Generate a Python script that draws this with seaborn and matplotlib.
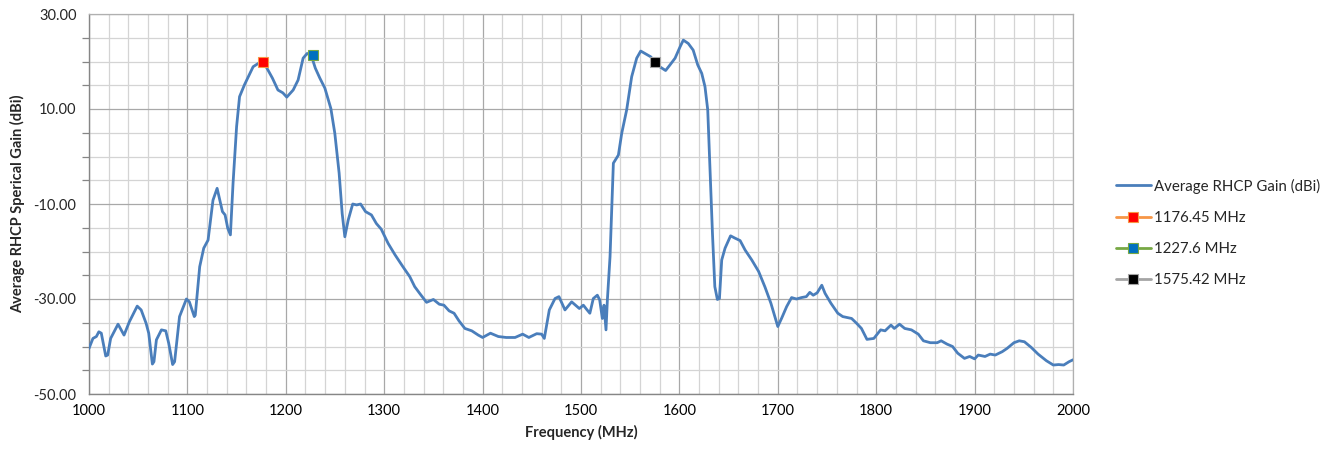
import matplotlib
matplotlib.use("Agg")
import matplotlib.pyplot as plt
import seaborn as sns
import numpy as np
import pandas as pd

# ---- data ----
freq_mhz = [
    1000, 1004, 1007.5, 1010, 1012.5, 1017, 1019, 1022, 1029.5, 1035.6, 1041, 1049, 1053, 1058, 1060.7,
    1064.4, 1066, 1068.5, 1073.6, 1078, 1081, 1085, 1087, 1092, 1099, 1102, 1107, 1108, 1112.5, 1116.6,
    1121, 1126, 1130.2, 1133, 1135.6, 1138.3, 1141, 1143.7, 1146.4, 1150, 1153, 1158, 1166.8, 1175,
    1180, 1186.4, 1192, 1197, 1201, 1207.5, 1212.5, 1217.6, 1221.7, 1226, 1230, 1234.6, 1239.7, 1245.8,
    1249.8, 1254.2, 1257.3, 1260, 1263.4, 1268, 1272, 1276, 1281, 1287, 1292, 1297, 1304, 1311, 1319,
    1326, 1331, 1336, 1343, 1350, 1356, 1360.7, 1366, 1371, 1376, 1382, 1389, 1395.6, 1400, 1408, 1416,
    1424, 1433, 1440.7, 1447, 1455, 1460, 1462.7, 1467.8, 1473.6, 1477.6, 1483.7, 1490.5, 1498.3,
    1502.4, 1505.8, 1509, 1512.5, 1516.6, 1519, 1521.7, 1523.4, 1525.4, 1526.8, 1529.5, 1532.9, 1538,
    1541.4, 1546.4, 1551.5, 1556.6, 1560.7, 1565, 1570.8, 1575, 1580, 1586, 1590.5, 1595.6, 1600.7,
    1604, 1609, 1614, 1618.6, 1622.7, 1626, 1628.8, 1631, 1633.6, 1636, 1638.6, 1640.7, 1643, 1646.4,
    1652, 1656.6, 1661.7, 1666.8, 1673.6, 1680.5, 1687, 1693, 1697, 1700, 1704, 1709, 1714, 1719, 1724,
    1729, 1732.5, 1736, 1740, 1744.7, 1748, 1754, 1761, 1766, 1775, 1780, 1785, 1790.6, 1797.6, 1804.5,
    1809, 1815, 1818.4, 1823.7, 1829, 1835.8, 1842.8, 1848, 1855, 1862, 1866, 1872, 1877.6, 1882.8,
    1889.7, 1895, 1900, 1903.7, 1910.6, 1915.8, 1921, 1928, 1933, 1940, 1945.4, 1950.6, 1957.6, 1964.5,
    1973, 1980, 1985.4, 1990.6, 1996, 2000,
]
gain_dbi = [
    -40.4, -38.3, -37.9, -36.9, -37.2, -42.0, -41.8, -38.3, -35.3, -37.6, -34.8, -31.5, -32.3, -35.1, -37.2,
    -43.7, -43.2, -38.6, -36.5, -36.7, -39.3, -43.8, -43.2, -33.7, -30.0, -30.6, -33.7, -33.4, -23.2, -19.3,
    -17.6, -9.2, -6.7, -9.2, -11.6, -12.3, -15.1, -16.5, -5.6, 6.3, 12.6, 15.1, 18.9, 20.0,
    18.9, 16.5, 14.0, 13.4, 12.5, 14.0, 16.1, 20.7, 21.7, 21.2, 18.6, 16.5, 14.4, 10.1,
    4.9, -3.5, -12.0, -16.9, -13.4, -10.0, -10.2, -10.0, -11.6, -12.3, -14.1, -15.3, -18.3, -20.7, -23.2,
    -25.3, -27.4, -28.8, -30.7, -30.1, -31.1, -31.3, -32.5, -33.0, -34.6, -36.2, -36.7, -37.6, -38.1, -37.2, -37.9,
    -38.1, -38.1, -37.4, -38.1, -37.3, -37.4, -38.3, -32.3, -29.9, -29.5, -32.3, -30.6, -32.0,
    -31.3, -32.2, -33.0, -29.9, -29.2, -30.2, -34.1, -31.3, -36.5, -30.2, -21.1, -1.4, 0.3,
    4.9, 9.8, 16.8, 20.7, 22.2, 21.7, 21.0, 20.0, 18.9, 18.1, 19.3, 20.7, 23.1,
    24.5, 23.8, 22.4, 19.3, 17.5, 14.7, 9.8, -2.1, -16.2, -27.4, -30.1, -29.9, -21.8, -19.3,
    -16.7, -17.2, -17.7, -19.7, -21.8, -24.2, -27.5, -30.9, -33.7, -35.8, -34.0, -31.6, -29.7, -30.0, -29.7,
    -29.5, -28.6, -29.2, -28.7, -27.1, -28.8, -30.9, -33.0, -33.7, -34.1, -35.1, -36.2, -38.5, -38.3, -36.5,
    -36.7, -35.5, -36.2, -35.3, -36.2, -36.5, -37.4, -38.8, -39.2, -39.2, -38.8, -39.5, -40.0, -41.4,
    -42.5, -42.1, -42.6, -41.8, -42.1, -41.6, -41.8, -41.1, -40.4, -39.2, -38.8, -39.0, -40.2, -41.6,
    -43.0, -43.9, -43.8, -43.9, -43.2, -42.8,
]
marker_labels = ["1176.45 MHz", "1227.6 MHz", "1575.42 MHz"]
marker_freq = [1176.45, 1227.6, 1575.42]
marker_gain = [20.0, 21.3, 20.0]
series_label = "Average RHCP Gain (dBi)"
x_ticks = [1000, 1100, 1200, 1300, 1400, 1500, 1600, 1700, 1800, 1900, 2000]
y_ticks = [-50, -30, -10, 10, 30]

# ---- styling ----
sns.set_style("white")
plt.rcParams["font.family"] = ["Lato", "DejaVu Sans"]

line_color = "#4A7EBB"
marker_line_colors = ["#F79646", "#77A844", "#A5A5A5"]
marker_face_colors = ["#FF0000", "#0070C0", "#000000"]

fig = plt.figure(figsize=(13.38, 4.53), dpi=100)
ax = fig.add_axes([89 / 1338, 1 - 394 / 453, (1073 - 89) / 1338, (394 - 14) / 453])

df = pd.DataFrame({"freq": freq_mhz, "gain": gain_dbi})
sns.lineplot(data=df, x="freq", y="gain", ax=ax, color=line_color, linewidth=2.0,
             label=series_label, sort=False, zorder=3)

for lab, f, g, lc, fc in zip(marker_labels, marker_freq, marker_gain, marker_line_colors, marker_face_colors):
    sns.lineplot(x=[f], y=[g], ax=ax, color=lc, marker="s", markersize=6.5,
                 markerfacecolor=fc, markeredgecolor=lc, markeredgewidth=0.8,
                 linewidth=2.0, label=lab, zorder=4)

ax.set_xlim(1000, 2000)
ax.set_ylim(-50, 30)
ax.set_xticks(x_ticks)
ax.set_xticks(np.arange(1000, 2001, 20), minor=True)
ax.set_yticks(y_ticks)
ax.set_yticks(np.arange(-50, 31, 5), minor=True)
ax.set_yticklabels([f"{v:.2f}" for v in y_ticks])
ax.set_xticklabels([str(v) for v in x_ticks])

ax.grid(which="minor", color="#d4d4d4", linewidth=0.9)
ax.grid(which="major", color="#a8a8a8", linewidth=0.9)
ax.set_axisbelow(True)

ax.tick_params(axis="x", which="both", length=0, labelsize=10.5, pad=7, colors="#000000")
ax.tick_params(axis="y", which="both", length=5, width=0.9, color="#868686", direction="out",
               labelsize=10.5, pad=4)
ax.tick_params(axis="y", which="minor", left=True)

for side in ["left", "bottom"]:
    ax.spines[side].set_color("#868686")
    ax.spines[side].set_linewidth(1.0)
for side in ["top", "right"]:
    ax.spines[side].set_color("#b0b0b0")
    ax.spines[side].set_linewidth(0.9)

ax.set_xlabel("Frequency (MHz)", fontsize=10.5, fontweight="bold", labelpad=5)
ax.set_ylabel("Average RHCP Sperical Gain (dBi)", fontsize=10.5, fontweight="bold", labelpad=6)

leg = ax.legend(loc="center left", bbox_to_anchor=(1.03, 0.424), frameon=False,
                fontsize=10.8, handlelength=2.3, handletextpad=0.2, labelspacing=1.15)

fig.savefig("out.png", dpi=100)
